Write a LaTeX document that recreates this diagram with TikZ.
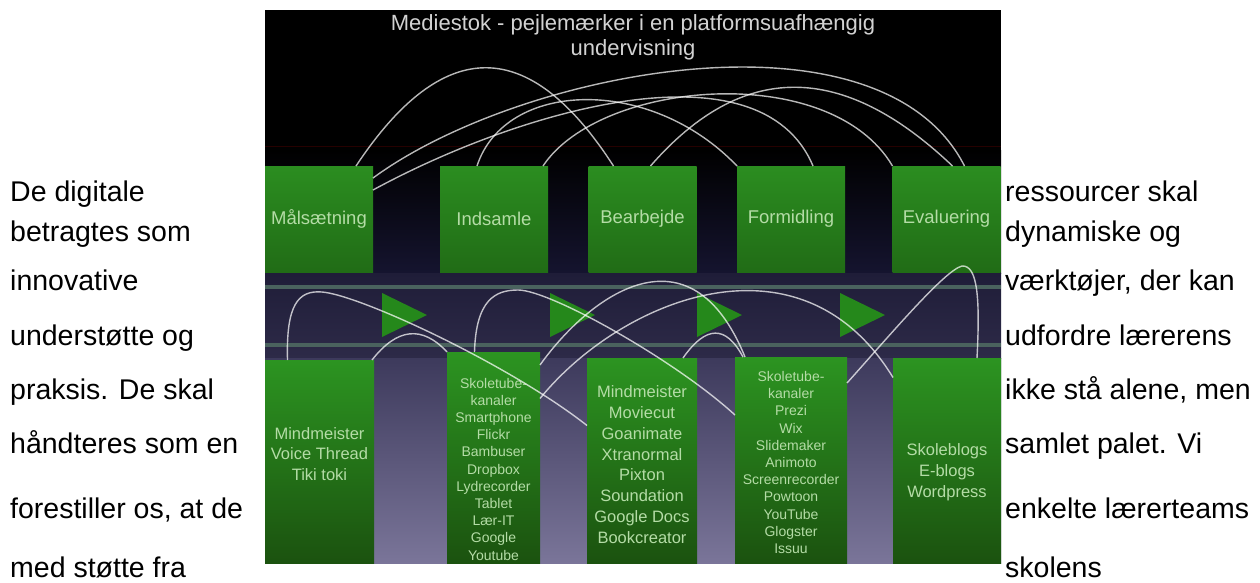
\documentclass[tikz,border=0pt]{standalone}
\usepackage{fontspec}
\setmainfont{Liberation Sans}
\usepackage{xcolor}

\definecolor{slidebg}{HTML}{15142F}
\definecolor{bandtop}{HTML}{1F1D38}
\definecolor{bandbot}{HTML}{2D2A48}
\definecolor{lowtop}{HTML}{3D3A5C}
\definecolor{lowbot}{HTML}{7A7599}
\definecolor{railgray}{HTML}{4A625E}
\definecolor{boxtop}{HTML}{2B8D20}
\definecolor{boxbot}{HTML}{216C16}
\definecolor{tooltop}{HTML}{2C9421}
\definecolor{toolbot}{HTML}{1B520F}
\definecolor{labelgreen}{HTML}{B4DCA6}
\definecolor{titlegray}{HTML}{D2D2D2}
\definecolor{flowgreen}{HTML}{25881B}

\begin{document}
\begin{tikzpicture}[x=1pt, y=-1pt]
    \tikzstyle{stage} = [rectangle, top color=boxtop, bottom color=boxbot, minimum width=108pt, minimum height=106pt, inner sep=0pt, outer sep=0pt, text=labelgreen, font=\fontsize{18.5}{21}\selectfont]
    \tikzstyle{toolbox} = [rectangle, top color=tooltop, bottom color=toolbot, inner sep=0pt, outer sep=0pt]
    \tikzstyle{tools} = [align=center, text=labelgreen, inner sep=0pt]
    \tikzstyle{wire} = [draw=white, draw opacity=0.72, line width=1.4pt]
    \tikzstyle{page} = [anchor=base west, inner sep=0pt, font=\fontsize{28.5}{30}\selectfont]

    \useasboundingbox (0,0) rectangle (1260,583);
    \fill[white] (0,0) rectangle (1260,583);

    % slide background
    \fill[black] (265,10) rectangle (1001,150);
    \shade[top color=black, bottom color=slidebg] (265,150) rectangle (1001,273);
    \shade[top color=bandtop, bottom color=bandbot] (265,273) rectangle (1001,358);
    \shade[top color=lowtop, bottom color=lowbot] (265,358) rectangle (1001,563);
    \draw[red!15!black, line width=1pt] (265,146) -- (1001,146);
    \draw[railgray, line width=3.5pt] (265,287) -- (1001,287);
    \draw[railgray, line width=3.5pt] (265,345) -- (1001,345);

    \node[font=\fontsize{22}{25}\selectfont, text=titlegray, align=center] (title) at (633,37) {Mediestok - pejlemærker i en platformsuafhængig\\undervisning};

    % phases
    \node[stage] (mal) at (319,219) {Målsætning};
    \node[stage] (ind) at (494,219) {Indsamle};
    \node[stage] (bea) at (642.5,219) {Bearbejde};
    \node[stage] (form) at (791,219) {Formidling};
    \node[stage] (eval) at (946.5,219) {Evaluering};

    % tool columns
    \node[toolbox, minimum width=109pt, minimum height=203pt] (b1) at (319.5,461.5) {};
    \node[toolbox, minimum width=93pt, minimum height=211pt] (b2) at (493.5,457.5) {};
    \node[toolbox, minimum width=110pt, minimum height=205pt] (b3) at (642,460.5) {};
    \node[toolbox, minimum width=112pt, minimum height=206pt] (b4) at (791,460) {};
    \node[toolbox, minimum width=108pt, minimum height=205pt] (b5) at (947,460.5) {};

    \node[tools, font=\fontsize{16.5}{20.8}\selectfont] (b1txt) at ([yshift=7.5pt]b1.center) {Mindmeister\\Voice Thread\\Tiki toki};
    \node[tools, font=\fontsize{14}{17.2}\selectfont] (b2txt) at ([yshift=-11.5pt]b2.center) {Skoletube-\\kanaler\\Smartphone\\Flickr\\Bambuser\\Dropbox\\Lydrecorder\\Tablet\\Lær-IT\\Google\\Youtube};
    \node[tools, font=\fontsize{16.5}{20.8}\selectfont] (b3txt) at ([yshift=-4pt]b3.center) {Mindmeister\\Moviecut\\Goanimate\\Xtranormal\\Pixton\\Soundation\\Google Docs\\Bookcreator};
    \node[tools, font=\fontsize{14}{17.2}\selectfont] (b4txt) at ([yshift=-2.5pt]b4.center) {Skoletube-\\kanaler\\Prezi\\Wix\\Slidemaker\\Animoto\\Screenrecorder\\Powtoon\\YouTube\\Glogster\\Issuu};
    \node[tools, font=\fontsize{16.5}{20.8}\selectfont] (b5txt) at ([yshift=-12pt]b5.center) {Skoleblogs\\E-blogs\\Wordpress};

    % arrows in the band
    \foreach \x in {382,550,697,840}
        \fill[flowgreen] (\x,293) -- (\x+45,315) -- (\x,337) -- cycle;

    % arcs between phases
    \draw[wire] ([xshift=37pt]mal.north) .. controls (443,35) and (529,35) .. ([xshift=-29pt]bea.north);
    \draw[wire] ([yshift=-12pt]mal.north east) .. controls (520,70) and (880,0) .. ([xshift=18pt]eval.north);
    \draw[wire] ([yshift=-24pt]mal.north east) .. controls (520,110) and (760,40) .. ([xshift=22pt]form.north);
    \draw[wire] ([xshift=-17pt]ind.north) .. controls (505,80) and (650,75) .. (form.north west);
    \draw[wire] ([xshift=-5pt]ind.north east) .. controls (600,80) and (830,60) .. (eval.north west);
    \draw[wire] ([xshift=8pt]bea.north) .. controls (742,61) and (842,61) .. ([xshift=6pt]eval.north);

    % arcs between tool columns
    \draw[wire] ([xshift=-32pt]b1.north) .. controls (286,305) and (298,290) .. (322,292) .. controls (360,295) and (510,365) .. ([yshift=35pt]b3.west);
    \draw[wire] ([xshift=-2pt]b1.north east) .. controls (397,328) and (422,325) .. (b2.north west);
    \draw[wire] ([xshift=-19pt]b2.north) .. controls (476,300) and (495,290) .. (518,290) .. controls (550,290) and (675,360) .. ([yshift=45pt]b4.west);
    \draw[wire] ([yshift=-13pt]b2.north east) .. controls (590,295) and (690,222) .. ([xshift=10pt]b4.north west);
    \draw[wire] ([yshift=59pt]b2.east) .. controls (620,300) and (800,225) .. ([yshift=83pt]b5.west);
    \draw[wire] ([yshift=77pt]b4.east) .. controls (890,335) and (945,270) .. (962,266) .. controls (978,265) and (980,300) .. ([xshift=30pt]b5.north);
    \draw[wire] ([xshift=-14pt]b3.north east) .. controls (706,325) and (726,325) .. ([xshift=8pt]b4.north west);

    % surrounding text
    \node[page] (l1) at (10,201) {De digitale};
    \node[page] (l2) at (10,241) {betragtes som};
    \node[page] (l3) at (10,290) {innovative};
    \node[page] (l4) at (10,345) {understøtte og};
    \node[page] (l5) at (10,399) {praksis. De skal};
    \node[page] (l6) at (10,453) {håndteres som en};
    \node[page] (l7) at (10,518) {forestiller os, at de};
    \node[page] (l8) at (10,577) {med støtte fra};

    \node[page] (r1) at (1005,201) {ressourcer skal};
    \node[page] (r2) at (1005,241) {dynamiske og};
    \node[page] (r3) at (1005,290) {værktøjer, der kan};
    \node[page] (r4) at (1005,345) {udfordre lærerens};
    \node[page] (r5) at (1005,399) {ikke stå alene, men};
    \node[page] (r6) at (1005,453) {samlet palet. Vi};
    \node[page] (r7) at (1005,518) {enkelte lærerteams};
    \node[page] (r8) at (1005,577) {skolens};
\end{tikzpicture}
\end{document}
